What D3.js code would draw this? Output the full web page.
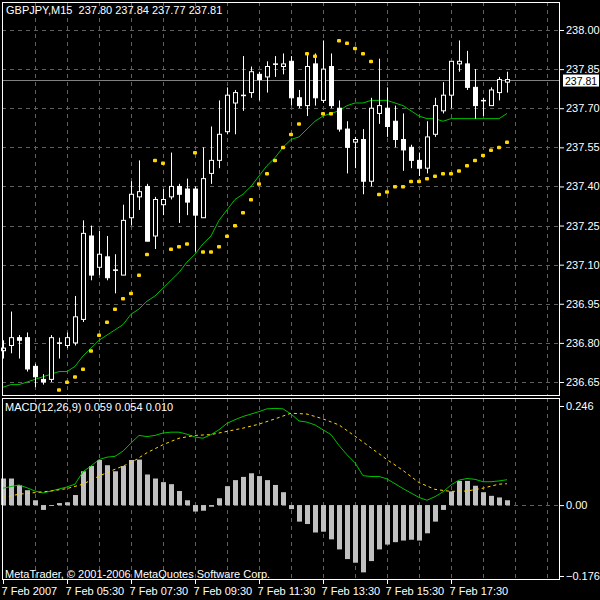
<!DOCTYPE html>
<html>
<head>
<meta charset="utf-8">
<script src="https://cdn.jsdelivr.net/npm/d3@7"></script>
<style>
  body { margin: 0; background: #000; }
  text { font-family: "Liberation Sans", Arial, sans-serif; font-size: 11px; fill: #fff; white-space: pre; }
</style>
</head>
<body>
<div id="chart"></div>
<script>
// Candle data (M15 bars, 7 Feb 2007 from 03:30)
var opens  = [236.77,236.79,236.82,236.82,236.71,236.66,236.66,236.80,236.79,236.80,236.89,237.21,237.09,237.13,237.08,237.06,237.28,237.36,237.40,237.21,237.33,237.36,237.40,237.39,237.39,237.28,237.45,237.50,237.61,237.72,237.75,237.76,237.83,237.82,237.87,237.86,237.88,237.74,237.71,237.87,237.73,237.86,237.70,237.62,237.57,237.58,237.42,237.68,237.70,237.65,237.58,237.55,237.50,237.47,237.60,237.69,237.75,237.87,237.87,237.78,237.73,237.71,237.76,237.80];
var highs  = [236.81,236.92,236.83,236.84,236.72,236.68,236.83,236.82,236.84,236.98,237.27,237.25,237.23,237.21,237.14,237.33,237.42,237.50,237.41,237.36,237.39,237.53,237.41,237.43,237.40,237.55,237.63,237.73,237.78,237.77,237.90,237.86,237.84,237.88,237.90,237.91,237.90,237.77,237.91,237.91,237.96,237.91,237.73,237.65,237.59,237.62,237.74,237.89,237.78,237.71,237.68,237.56,237.53,237.65,237.74,237.80,237.88,237.96,237.92,237.85,237.74,237.78,237.82,237.84];
var lows   = [236.74,236.76,236.74,236.69,236.63,236.64,236.65,236.74,236.78,236.79,236.88,237.04,237.06,237.04,236.99,237.06,237.25,237.31,237.19,237.16,237.29,237.35,237.26,237.29,237.15,237.28,237.41,237.47,237.60,237.60,237.69,237.74,237.73,237.76,237.82,237.83,237.71,237.70,237.67,237.71,237.72,237.70,237.61,237.45,237.47,237.37,237.40,237.64,237.59,237.55,237.46,237.47,237.44,237.45,237.59,237.68,237.70,237.84,237.77,237.66,237.67,237.71,237.73,237.76];
var closes = [236.78,236.82,236.81,236.70,236.67,236.65,236.82,236.80,236.82,236.90,237.22,237.06,237.14,237.05,237.08,237.27,237.37,237.38,237.19,237.35,237.35,237.40,237.37,237.34,237.29,237.43,237.50,237.60,237.75,237.76,237.75,237.84,237.81,237.86,237.87,237.87,237.74,237.71,237.86,237.74,237.85,237.71,237.62,237.55,237.58,237.42,237.70,237.71,237.63,237.58,237.54,237.50,237.47,237.59,237.71,237.75,237.88,237.88,237.78,237.71,237.73,237.77,237.81,237.81];

// Moving average (green)
var maValues = [236.63,236.64,236.64,236.65,236.66,236.67,236.68,236.69,236.69,236.71,236.75,236.78,236.81,236.83,236.85,236.87,236.91,236.93,236.96,236.98,237.01,237.04,237.07,237.11,237.14,237.18,237.21,237.27,237.31,237.35,237.37,237.40,237.44,237.48,237.51,237.55,237.58,237.59,237.62,237.65,237.67,237.68,237.69,237.71,237.72,237.72,237.73,237.73,237.73,237.72,237.71,237.69,237.67,237.66,237.66,237.65,237.66,237.66,237.66,237.66,237.66,237.66,237.66,237.68];

// Parabolic SAR dots (null = outside visible area)
var sarValues = [null,null,null,null,null,null,null,236.62,236.65,236.67,236.70,236.77,236.83,236.88,236.93,236.97,236.99,237.06,237.14,237.50,237.49,237.16,237.17,237.18,237.53,237.15,237.15,237.17,237.21,237.25,237.30,237.35,237.41,237.45,237.50,237.55,237.60,237.64,237.91,237.90,237.68,237.68,237.96,237.95,237.93,237.91,237.88,237.37,237.38,237.40,237.40,237.42,237.42,237.43,237.44,237.45,237.45,237.46,237.48,237.50,237.52,237.54,237.55,237.57];

// MACD(12,26,9)
var macdHist = [0.066,0.066,0.050,0.037,0.012,-0.012,-0.002,0.005,0.007,0.025,0.084,0.097,0.112,0.099,0.084,0.097,0.112,0.113,0.076,0.066,0.057,0.052,0.035,0.012,-0.016,-0.014,-0.004,0.017,0.047,0.062,0.070,0.079,0.072,0.062,0.050,0.032,-0.010,-0.041,-0.047,-0.068,-0.066,-0.085,-0.110,-0.134,-0.143,-0.167,-0.139,-0.110,-0.098,-0.092,-0.088,-0.086,-0.088,-0.070,-0.041,-0.012,0.034,0.060,0.060,0.048,0.032,0.023,0.019,0.012];
var macdLine = [0.042,0.046,0.050,0.043,0.035,0.030,0.035,0.040,0.045,0.052,0.083,0.097,0.113,0.119,0.121,0.134,0.154,0.173,0.170,0.173,0.179,0.181,0.181,0.176,0.169,0.166,0.175,0.187,0.203,0.212,0.220,0.226,0.232,0.239,0.240,0.239,0.226,0.209,0.206,0.199,0.187,0.175,0.148,0.125,0.105,0.073,0.071,0.071,0.065,0.053,0.041,0.030,0.019,0.012,0.021,0.033,0.050,0.062,0.066,0.064,0.058,0.058,0.060,0.063];
var signalIdx = [0,2,4,6,8,10,12,14,16,18,20,22,24,26,28,30,32,34,36,38,40,42,44,46,48,50,52,54,56,58,60,62,63];
var signalVal = [0.019,0.027,0.031,0.035,0.041,0.052,0.072,0.089,0.105,0.130,0.150,0.166,0.173,0.175,0.183,0.191,0.201,0.214,0.228,0.226,0.214,0.199,0.171,0.142,0.113,0.086,0.056,0.039,0.034,0.035,0.042,0.052,0.053];

var priceTicks = [238.00,237.85,237.70,237.55,237.40,237.25,237.10,236.95,236.80,236.65];
var macdTicks = [0.246, 0.00, -0.176];
var timeLabels = ["7 Feb 2007","7 Feb 05:30","7 Feb 07:30","7 Feb 09:30","7 Feb 11:30","7 Feb 13:30","7 Feb 15:30","7 Feb 17:30"];
var title = "GBPJPY,M15  237.80 237.84 237.77 237.81";
var lastPrice = 237.81;

var svg = d3.select("#chart").append("svg")
    .attr("width", 600).attr("height", 600)
    .style("background", "#000");

var x = d3.scaleLinear().domain([0, 63]).range([3, 507]);
var y = d3.scaleLinear().domain([236.65, 238.00]).range([382, 30]);
var ym = d3.scaleLinear().domain([-0.176, 0.246]).range([576, 406]);

var gridColor = "#606060";

// vertical grid (every 4 bars)
var vGrid = d3.range(4, 70, 4).filter(d => x(d) < 560);
[[2, 396], [398, 580]].forEach(function (r) {
    svg.append("g").selectAll("line").data(vGrid).enter().append("line")
        .attr("x1", d => x(d) + 0.5).attr("x2", d => x(d) + 0.5)
        .attr("y1", r[0]).attr("y2", r[1])
        .attr("stroke", gridColor).attr("stroke-dasharray", "4,4");
});

// horizontal grid, main
svg.append("g").selectAll("line").data(priceTicks).enter().append("line")
    .attr("x1", 2).attr("x2", 560)
    .attr("y1", d => Math.round(y(d)) + 0.5).attr("y2", d => Math.round(y(d)) + 0.5)
    .attr("stroke", gridColor).attr("stroke-dasharray", "4,4");
// zero line macd
svg.append("line")
    .attr("x1", 2).attr("x2", 560)
    .attr("y1", Math.round(ym(0)) + 0.5).attr("y2", Math.round(ym(0)) + 0.5)
    .attr("stroke", gridColor).attr("stroke-dasharray", "4,4");

// last price line
svg.append("line")
    .attr("x1", 2).attr("x2", 560)
    .attr("y1", Math.round(y(lastPrice)) + 0.5).attr("y2", Math.round(y(lastPrice)) + 0.5)
    .attr("stroke", "#808080");

// moving average
svg.append("path")
    .datum(maValues)
    .attr("d", d3.line().x((d, i) => x(i)).y(d => y(d)))
    .attr("fill", "none").attr("stroke", "#00c000").attr("stroke-width", 1);

// candles
var bars = d3.range(opens.length);
var candles = svg.append("g").selectAll("g").data(bars).enter().append("g");
candles.append("line")
    .attr("x1", i => Math.round(x(i)) + 0.5).attr("x2", i => Math.round(x(i)) + 0.5)
    .attr("y1", i => y(highs[i])).attr("y2", i => y(lows[i]))
    .attr("stroke", "#fff");
candles.append("rect")
    .attr("x", i => Math.round(x(i)) - 2 + 0.5)
    .attr("width", 4)
    .attr("y", i => y(Math.max(opens[i], closes[i])))
    .attr("height", i => Math.max(0.5, Math.abs(y(opens[i]) - y(closes[i]))))
    .attr("fill", i => closes[i] > opens[i] ? "#000" : "#fff")
    .attr("stroke", "#fff");

// parabolic SAR
svg.append("g").selectAll("rect").data(bars.filter(i => sarValues[i] !== null)).enter().append("rect")
    .attr("x", i => x(i) - 2).attr("y", i => y(sarValues[i]) - 1.5)
    .attr("width", 4).attr("height", 3.5).attr("rx", 1)
    .attr("fill", "#ffd700");

// MACD histogram
svg.append("g").selectAll("rect").data(bars).enter().append("rect")
    .attr("x", i => Math.round(x(i)) - 2)
    .attr("width", 5)
    .attr("y", i => Math.min(ym(0), ym(macdHist[i])))
    .attr("height", i => Math.abs(ym(macdHist[i]) - ym(0)))
    .attr("fill", "#c0c0c0");

svg.append("path")
    .datum(macdLine)
    .attr("d", d3.line().x((d, i) => x(i)).y(d => ym(d)))
    .attr("fill", "none").attr("stroke", "#00c000");
svg.append("path")
    .datum(signalIdx)
    .attr("d", d3.line().x(d => x(d)).y((d, k) => ym(signalVal[k])))
    .attr("fill", "none").attr("stroke", "#ffd700").attr("stroke-dasharray", "3,3");

// frames
svg.append("rect").attr("x", 2.5).attr("y", 2.5).attr("width", 557).attr("height", 393)
    .attr("fill", "none").attr("stroke", "#fff");
svg.append("rect").attr("x", 2.5).attr("y", 398.5).attr("width", 557).attr("height", 181)
    .attr("fill", "none").attr("stroke", "#fff");

// price axis
var yAxis = svg.append("g").attr("transform", "translate(560,0)")
    .call(d3.axisRight(y).tickValues(priceTicks).tickFormat(d3.format(".2f")).tickSize(4).tickPadding(2));
yAxis.select(".domain").remove();
yAxis.selectAll("line").attr("stroke", "#fff");
yAxis.selectAll("text").attr("fill", "#fff").style("font-size", "11px").style("font-family", "Liberation Sans, Arial");

var ly = y(lastPrice);
svg.append("rect").attr("x", 563).attr("y", ly - 5).attr("width", 36).attr("height", 12).attr("fill", "#fff");
svg.append("text").attr("x", 565).attr("y", ly + 5).style("fill", "#000").style("font-size", "10.5px").text(lastPrice.toFixed(2));

var mAxis = svg.append("g").attr("transform", "translate(560,0)")
    .call(d3.axisRight(ym).tickValues(macdTicks).tickFormat(d => d === 0 ? "0.00" : d3.format(".3f")(d)).tickSize(4).tickPadding(2));
mAxis.select(".domain").remove();
mAxis.selectAll("line").attr("stroke", "#fff");
mAxis.selectAll("text").attr("fill", "#fff").style("font-size", "11px").style("font-family", "Liberation Sans, Arial");

// time axis
var tAxis = svg.append("g").attr("transform", "translate(0,580)")
    .call(d3.axisBottom(x).tickValues(timeLabels.map((d, k) => k * 8)).tickFormat((d, k) => timeLabels[k]).tickSize(4));
tAxis.select(".domain").remove();
tAxis.selectAll("line").attr("stroke", "#fff");
tAxis.selectAll("text").attr("fill", "#fff").attr("text-anchor", "start").attr("dx", "-2")
    .style("font-size", "11px").style("font-family", "Liberation Sans, Arial");

// labels
svg.append("text").attr("x", 6).attr("y", 14).text(title);
svg.append("text").attr("x", 5).attr("y", 411).text("MACD(12,26,9) 0.059 0.054 0.010");
svg.append("text").attr("x", 5).attr("y", 578).text("MetaTrader, \u00a9 2001-2006 MetaQuotes Software Corp.");
</script>
</body>
</html>
